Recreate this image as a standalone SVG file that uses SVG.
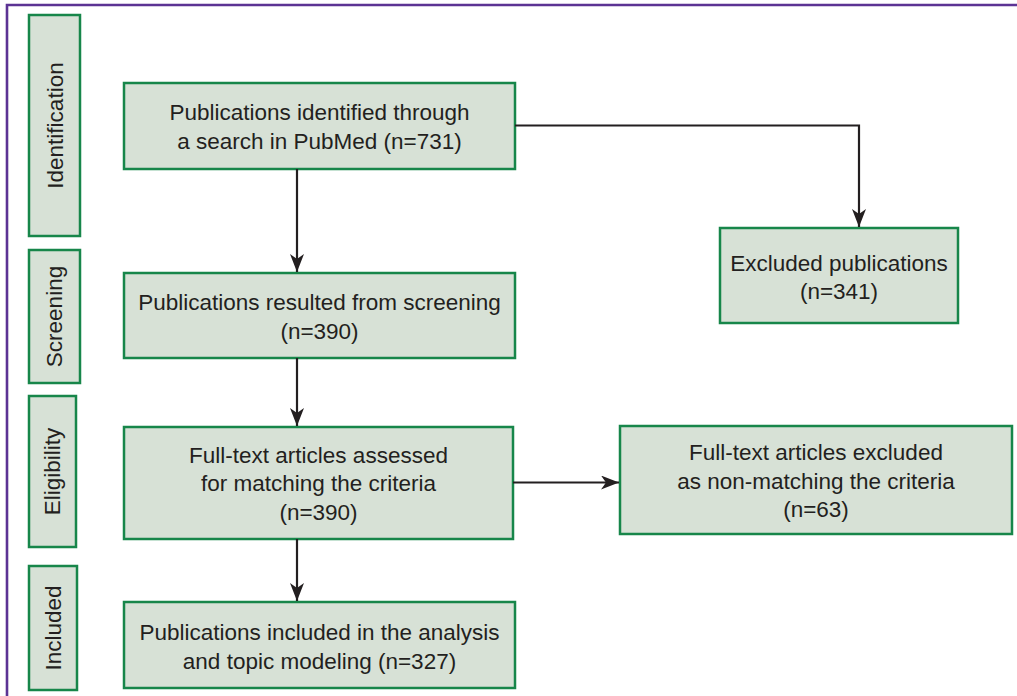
<svg xmlns="http://www.w3.org/2000/svg" width="1017" height="696" viewBox="0 0 1017 696">
<style>
.box{fill:#d7e1d6;stroke:#17864a;stroke-width:2.5}
.t{font-family:"Liberation Sans",Arial,sans-serif;font-size:22.5px;fill:#231f20;text-anchor:middle}
.c{fill:none;stroke:#231f20;stroke-width:2.2}
</style>
<defs>
<marker id="ah" markerUnits="userSpaceOnUse" viewBox="0 0 18 14" refX="18" refY="7" markerWidth="18" markerHeight="14" orient="auto">
<path d="M0,0 L18,7 L0,14 L5,7 Z" fill="#231f20"/>
</marker>
</defs>
<rect width="1017" height="696" fill="#ffffff"/>
<path d="M7,696 V5 H1017" fill="none" stroke="#5c3394" stroke-width="2.6"/>

<g id="stage-identification">
<rect class="box" x="29" y="15" width="51" height="221"/>
<text class="t" transform="translate(62.5,125.5) rotate(-90)">Identification</text>
</g>
<g id="stage-screening">
<rect class="box" x="29" y="250" width="51" height="133"/>
<text class="t" transform="translate(62,316.5) rotate(-90)">Screening</text>
</g>
<g id="stage-eligibility">
<rect class="box" x="29" y="396" width="47" height="151"/>
<text class="t" transform="translate(60,471.5) rotate(-90)">Eligibility</text>
</g>
<g id="stage-included">
<rect class="box" x="29" y="566" width="48" height="124"/>
<text class="t" transform="translate(60.5,628) rotate(-90)">Included</text>
</g>

<g id="identified">
<rect class="box" x="124" y="83" width="391" height="86"/>
<text class="t" x="319.5" y="120">Publications identified through</text>
<text class="t" x="319.5" y="148.5">a search in PubMed (n=731)</text>
</g>
<g id="excluded">
<rect class="box" x="720" y="228" width="238" height="95"/>
<text class="t" x="839" y="270.5">Excluded publications</text>
<text class="t" x="839" y="299">(n=341)</text>
</g>
<g id="screened">
<rect class="box" x="124" y="273" width="391" height="85"/>
<text class="t" x="319.5" y="310">Publications resulted from screening</text>
<text class="t" x="319.5" y="338.5">(n=390)</text>
</g>
<g id="assessed">
<rect class="box" x="124" y="427" width="389" height="112"/>
<text class="t" x="318.5" y="462.5">Full-text articles assessed</text>
<text class="t" x="318.5" y="491">for matching the criteria</text>
<text class="t" x="318.5" y="519.5">(n=390)</text>
</g>
<g id="fulltext-excluded">
<rect class="box" x="620" y="426" width="392" height="108"/>
<text class="t" x="816" y="460">Full-text articles excluded</text>
<text class="t" x="816" y="488.5">as non-matching the criteria</text>
<text class="t" x="816" y="517">(n=63)</text>
</g>
<g id="included">
<rect class="box" x="124" y="602" width="391" height="86"/>
<text class="t" x="319.5" y="640">Publications included in the analysis</text>
<text class="t" x="319.5" y="668.5">and topic modeling (n=327)</text>
</g>

<g id="connectors">
<path class="c" d="M297,169 V272" marker-end="url(#ah)"/>
<path class="c" d="M515,125.5 H859 V227" marker-end="url(#ah)"/>
<path class="c" d="M297,358 V426" marker-end="url(#ah)"/>
<path class="c" d="M513,482.5 H619" marker-end="url(#ah)"/>
<path class="c" d="M297,539 V601" marker-end="url(#ah)"/>
</g>
</svg>
